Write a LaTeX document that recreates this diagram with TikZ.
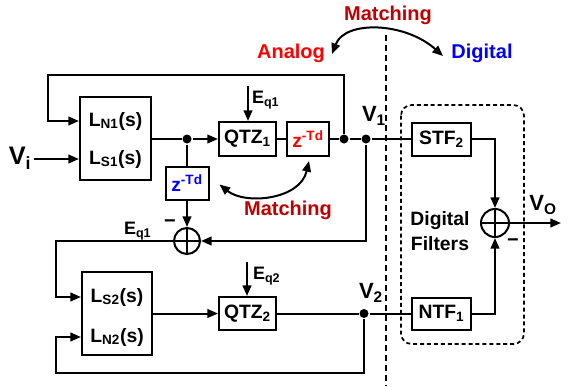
\documentclass[tikz,border=0pt]{standalone}
\usepackage{fontspec}
\setmainfont{Liberation Sans}
\usetikzlibrary{positioning,arrows.meta,calc}
\definecolor{cred}{HTML}{FF0000}
\definecolor{dred}{HTML}{C00000}
\definecolor{cblue}{HTML}{0000FF}
\definecolor{ink}{HTML}{000000}
\newcommand{\pxs}{0.75pt}
\newcommand{\fsz}[1]{\fontsize{#1}{#1}\selectfont\bfseries}

\begin{document}
\begin{tikzpicture}[
  x=0.75pt, y=-0.75pt,
  line width=1.5pt, draw=ink,
  >={Triangle[length=8pt,width=6.5pt]},
  blk/.style={draw, line width=1.5pt, inner sep=0pt, font=\fsz{14.5}},
  lbl/.style={inner sep=0pt, font=\fsz{14.5}},
  vlab/.style={inner sep=1pt, font=\fsz{16.5}},
  eqlab/.style={inner sep=0pt, anchor=west, font=\fsz{13.5}},
  mlab/.style={inner sep=0pt, font=\fsz{15}},
  sum/.style={draw, circle, minimum size=26*\pxs, inner sep=0pt,
    path picture={\draw (path picture bounding box.north) -- (path picture bounding box.south)
      (path picture bounding box.west) -- (path picture bounding box.east);}},
  dot/.style={circle, fill=ink, inner sep=0pt, minimum size=9*\pxs},
  bigdash/.style={line width=1.5pt, dash pattern=on 4.5pt off 3pt},
]
\useasboundingbox (0,0) rectangle (568,386);

% ---- Stage 1 ------------------------------------------------------------------
\node[blk, minimum width=71*\pxs, minimum height=83*\pxs] (L1) at (115.5,138.5) {};
\node[lbl] (tN1) at (115.5,121) {L\textsubscript{N1}(s)};
\node[lbl] (tS1) at (115.5,159) {L\textsubscript{S1}(s)};
\node[vlab, font=\fsz{19}] (vi) at (20,158) {V\textsubscript{i}};
\draw[->] (vi.east |- tS1) -- (L1.west |- tS1);

\node[dot] (d1) at (187,139) {};
\node[blk, minimum width=57*\pxs, minimum height=34*\pxs] (Q1) at (247.5,139) {QTZ\textsubscript{1}};
\node[blk, minimum width=42*\pxs, minimum height=34*\pxs, text=cred] (zr) at (308,139) {z\textsuperscript{-Td}};
\node[dot] (d2) at (344,139) {};
\node[dot] (d3) at (366,139) {};
\node[vlab] (v1) at (374,116) {V\textsubscript{1}};

\draw (L1.east |- d1) -- (d1);
\draw[->] (d1) -- (Q1);
\draw (Q1) -- (zr);
\draw (zr) -- (d2) -- (d3);

% quantizer error 1
\coordinate (e1) at (248,86);
\draw[->] (e1) -- (e1 |- Q1.north);
\node[eqlab] (le1) at (251,100) {E\textsubscript{q1}};

% outer loop back to L1
\coordinate (tl) at (48,75);
\draw[->] (d2) |- (tl) |- (L1.west |- tN1);

% delay path and subtraction
\node[blk, minimum width=43*\pxs, minimum height=33*\pxs, text=cblue] (zb) at (187,183.5) {z\textsuperscript{-Td}};
\node[sum] (s1) at (187,241) {};
\node[mlab] (m1) at (170,224) {−};
\draw (d1) -- (zb);
\draw[->] (zb) -- (s1);
\draw[->] (d3) |- (s1);

% bottom matching arrow
\draw[<->] ($(zb.east)+(10,1)$) .. controls (245,205) and (300,200) .. ($(zr.south)+(1,4)$);
\node[mlab, text=dred] (mt2) at (288,210) {Matching};

% ---- Stage 2 ------------------------------------------------------------------
\node[eqlab] (le1b) at (123,231) {E\textsubscript{q1}};
\node[blk, minimum width=70*\pxs, minimum height=83*\pxs] (L2) at (117,313.5) {};
\node[lbl] (tS2) at (117,297) {L\textsubscript{S2}(s)};
\node[lbl] (tN2) at (117,337) {L\textsubscript{N2}(s)};
\node[blk, minimum width=57*\pxs, minimum height=33*\pxs] (Q2) at (247.5,313.5) {QTZ\textsubscript{2}};
\node[dot] (d4) at (364,313.5) {};
\node[vlab] (v2) at (371,293) {V\textsubscript{2}};

\coordinate (lb) at (56,373);
\draw[->] (s1) -| (lb |- tS2) -- (L2.west |- tS2);
\draw[->] (L2.east |- Q2) -- (Q2);
\draw (Q2) -- (d4);
\draw[->] (d4) |- (lb) |- (L2.west |- tN2);

\coordinate (e2) at (247,262);
\draw[->] (e2) -- (e2 |- Q2.north);
\node[eqlab] (le2) at (252,276) {E\textsubscript{q2}};

% ---- Digital side -------------------------------------------------------------
\draw[bigdash] (386,35) -- (386,386);
\draw[line width=1.3pt, dash pattern=on 3pt off 2.2pt, rounded corners=8pt] (401,105) rectangle (524,344);

\node[blk, minimum width=59*\pxs, minimum height=33*\pxs] (stf) at (441.5,139) {STF\textsubscript{2}};
\node[blk, minimum width=59*\pxs, minimum height=32*\pxs] (ntf) at (441.5,313.5) {NTF\textsubscript{1}};
\node[sum, minimum size=28*\pxs] (s2) at (495,223) {};
\node[lbl, align=center, font=\fsz{14.5}] (df) at (440,231) {Digital\\[4pt]Filters};
\node[mlab] (m2) at (513,243) {−};
\coordinate (vout) at (561,223);
\node[vlab] (vo) at (543,205) {V\textsubscript{O}};

\draw (d3) -- (stf);
\draw (d4) -- (ntf);
\draw[->] (stf) -| (s2);
\draw[->] (ntf) -| (s2);
\draw[->] (s2) -- (vout);

% ---- Analog / Digital matching ------------------------------------------------
\node[mlab, text=dred] (mt1) at (388,15) {Matching};
\node[mlab, text=cred] (ana) at (291,53) {Analog};
\node[mlab, text=cblue] (dig) at (482,53) {Digital};
\draw[<->] (332,54) .. controls (345,20) and (405,22) .. (443,56);

\end{tikzpicture}
\end{document}
